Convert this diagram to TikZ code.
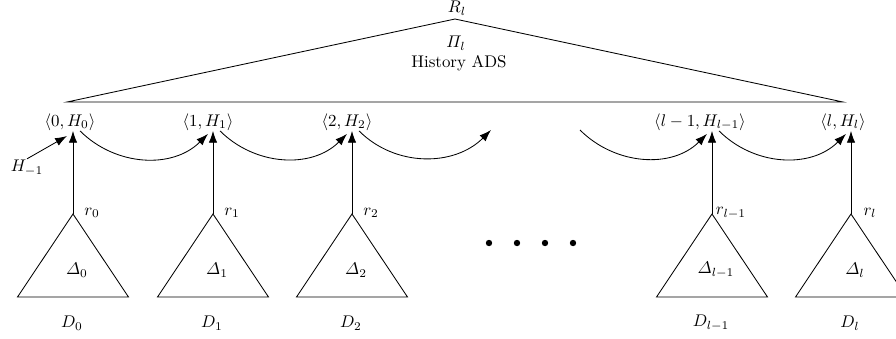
\documentclass[tikz,border=0pt]{standalone}
\usepackage{amsmath}
\usetikzlibrary{arrows.meta,calc}
\begin{document}
\begin{tikzpicture}[x=0.592pt,y=-0.592pt,line width=0.5pt,
  lbl/.style={inner sep=0pt},
  arr/.style={-{Latex[length=7pt,width=5pt]}},
  curv/.style={arr,out=-45,in=-135},
  tri/.style={draw,line join=miter},
  dotc/.style={fill=black}]
\useasboundingbox (0,0) rectangle (896,338);
% big triangle
\coordinate (top) at (455,19);
\coordinate (bl) at (67,102);
\coordinate (br) at (843,102);
\draw[tri] (bl) -- (top) -- (br) -- cycle;
\node[lbl] (Rl) at (457,8) {$R_l$};
\node[lbl] (Pil) at (456,43) {$\varPi_l$};
\node[lbl] (hist) at (459,63) {History ADS};
% history nodes
\node[lbl] (n0) at (70,122) {$\langle 0, H_0\rangle$};
\node[lbl] (n1) at (208,122) {$\langle 1, H_1\rangle$};
\node[lbl] (n2) at (347,122) {$\langle 2, H_2\rangle$};
\node[lbl] (nl1) at (700,122) {$\langle l-1, H_{l-1}\rangle$};
\node[lbl] (nl) at (843,122) {$\langle l, H_l\rangle$};
% apexes of small triangles
\coordinate (a0) at (73,214);
\coordinate (a1) at (213,214);
\coordinate (a2) at (352,214);
\coordinate (al1) at (712,214);
\coordinate (al) at (851,214);
% small triangles, labels
\foreach \a/\s in {a0/0,a1/1,a2/2,al1/{l-1},al/l}{
  \draw[tri] (\a) -- ++(-55.5,83) -- ++(111,0) -- cycle;
  \node[lbl] (del\a) at ($(\a)+(4,56)$) {$\varDelta_{\s}$};
  \node[lbl] (D\a) at ($(\a)+(-1,109)$) {$D_{\s}$};
  \node[lbl] (r\a) at ($(\a)+(19,-1)$) {$r_{\s}$};
}
% vertical arrows
\draw[arr] (a0) -- (a0 |- n0.south);
\draw[arr] (a1) -- (a1 |- n1.south);
\draw[arr] (a2) -- (a2 |- n2.south);
\draw[arr] (al1) -- (al1 |- nl1.south);
\draw[arr] (al) -- (al |- nl.south);
% curved arrows
\coordinate (gapin) at (491,130);
\coordinate (gapout) at (580,130);
\draw[curv] ($(a0 |- n0.south)+(7,0)$) to ($(a1 |- n1.south)+(-5,3)$);
\draw[curv] ($(a1 |- n1.south)+(7,0)$) to ($(a2 |- n2.south)+(-5,3)$);
\draw[curv] ($(a2 |- n2.south)+(7,0)$) to (gapin);
\draw[curv] (gapout) to ($(al1 |- nl1.south)+(-5,3)$);
\draw[curv] ($(al1 |- nl1.south)+(7,0)$) to ($(al |- nl.south)+(-5,3)$);
% H_{-1}
\node[lbl] (Hm) at (27,168) {$H_{-1}$};
\coordinate (Hmt) at (67,136);
\draw[arr] ($(Hm.north)+(0,-1)$) -- (Hmt);
% dots
\foreach \x/\n in {489/d1,517/d2,545/d3,573/d4}{
  \fill[dotc] (\x,243) circle (3.2);
  \coordinate (\n) at (\x,243);
}
\end{tikzpicture}
\end{document}
